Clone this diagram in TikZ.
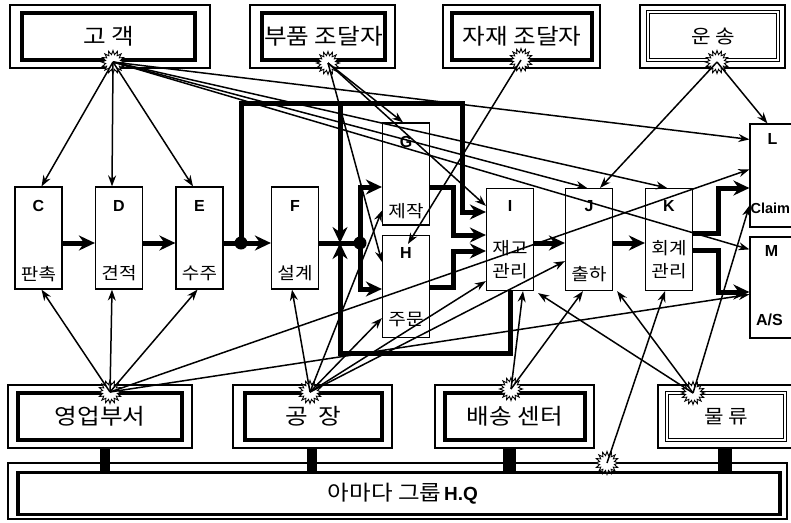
\documentclass[tikz,border=0pt]{standalone}
\usepackage{fontspec}
\setmainfont{Liberation Sans}
\newfontfamily\kr{Noto Sans CJK KR}[FakeStretch=1.12]
\usetikzlibrary{arrows.meta,calc,shapes.symbols}
\begin{document}
\begin{tikzpicture}[x=1pt,y=-1pt,
  outerbox/.style={draw, line width=1.2pt, inner sep=0pt, fill=white},
  innerbox/.style={draw, line width=4pt, inner sep=0pt, fill=white, font=\kr\fontsize{22}{26}\selectfont},
  dblbox/.style={draw, double, double distance=1.6pt, line width=1.1pt, inner sep=0pt, fill=white, font=\kr\fontsize{19}{22}\selectfont},
  pbox/.style={draw, line width=1.2pt, fill=white, inner sep=0pt, minimum width=47pt, minimum height=102pt},
  ltr/.style={font=\bfseries\fontsize{16}{16}\selectfont, inner sep=0pt},
  kor/.style={font=\kr\fontsize{17}{23}\selectfont, inner sep=0pt, align=center},
  burst/.style={starburst, starburst points=16, starburst point height=4pt, minimum size=23pt, inner sep=0pt, draw, fill=white, line width=0.9pt, random starburst=0},
  conn/.style={line width=1.5pt, -{Stealth[length=11pt,width=8pt]}},
  thk/.style={line width=5pt, line join=miter, -{Stealth[length=16pt,width=15pt]}},
  thkl/.style={line width=5pt, line join=miter},
  bar/.style={fill=black}
]
\useasboundingbox (0,0) rectangle (791,522);
\clip (0,0) rectangle (791,522);
\fill[white] (0,0) rectangle (791,522);

% ---------- top boxes ----------
\node[outerbox, minimum width=200pt, minimum height=63pt] (custO) at (110,36.5) {};
\node[innerbox, minimum width=173pt, minimum height=47pt] (cust) at (108.5,36.5) {고 객};
\node[outerbox, minimum width=145pt, minimum height=63pt] (partsO) at (322.5,36.5) {};
\node[innerbox, minimum width=123pt, minimum height=47pt] (parts) at (323.5,36.5) {부품 조달자};
\node[outerbox, minimum width=157pt, minimum height=63pt] (matO) at (521.5,36.5) {};
\node[innerbox, minimum width=140pt, minimum height=47pt] (mat) at (522,36.5) {자재 조달자};
\node[outerbox, minimum width=145pt, minimum height=63pt] (transO) at (712.5,36.5) {};
\node[dblbox, minimum width=130pt, minimum height=48pt] (trans) at (713,36) {운 송};

% ---------- bottom boxes ----------
\node[outerbox, minimum width=779pt, minimum height=56pt] (hqO) at (397.5,491) {};
\node[draw, line width=3.5pt, inner sep=0pt, fill=white, minimum width=762pt, minimum height=42pt] (hq) at (399,493.5) {};
\node[inner sep=0pt] at (403,494) {{\kr\fontsize{21}{24}\selectfont 아마다 그룹} {\bfseries\fontsize{19}{20}\selectfont H.Q}};
\fill[bar] (100,440) rectangle (110,472);
\fill[bar] (307,440) rectangle (317,472);
\fill[bar] (503,440) rectangle (516,472);
\fill[bar] (718,440) rectangle (732,472);
\node[outerbox, minimum width=184pt, minimum height=63pt] (salesO) at (100,416.5) {};
\node[innerbox, minimum width=164pt, minimum height=47pt] (sales) at (100,416.5) {영업부서};
\node[outerbox, minimum width=159pt, minimum height=63pt] (facO) at (312.5,416.5) {};
\node[innerbox, minimum width=137pt, minimum height=47pt] (fac) at (313.5,416.5) {공\hspace{0.5em}장};
\node[outerbox, minimum width=159pt, minimum height=63pt] (delO) at (514.5,416.5) {};
\node[innerbox, minimum width=140pt, minimum height=47pt] (del) at (515,416.5) {배송 센터};
\node[outerbox, minimum width=142pt, minimum height=63pt] (logO) at (729,416.5) {};
\node[dblbox, minimum width=118pt, minimum height=47pt] (log) at (726,416.5) {물 류};
\fill[bar] (100,448) rectangle (110,464);
\fill[bar] (307,448) rectangle (317,464);
\fill[bar] (503,448) rectangle (516,464);
\fill[bar] (718,448) rectangle (732,464);

% ---------- process boxes ----------
\node[pbox] (C) at (38.5,238) {};
\node[pbox] (D) at (119,238) {};
\node[pbox] (E) at (199.5,238) {};
\node[pbox] (F) at (295,238) {};
\node[pbox] (G) at (406,174) {};
\node[pbox] (H) at (406,286.5) {};
\node[pbox] (I) at (510,239.5) {};
\node[pbox] (J) at (589,239.5) {};
\node[pbox] (K) at (669,239.5) {};
\node[pbox, minimum width=50pt, minimum height=103pt] (L) at (775,175.5) {};
\node[pbox, minimum width=50pt, minimum height=101pt] (M) at (775,287.5) {};

\node[ltr] at ($(C.north)+(0,20)$) {C};
\node[kor] at ($(C.south)+(0,-16)$) {판촉};
\node[ltr] at ($(D.north)+(0,20)$) {D};
\node[kor] at ($(D.south)+(0,-16)$) {견적};
\node[ltr] at ($(E.north)+(0,20)$) {E};
\node[kor] at ($(E.south)+(0,-16)$) {수주};
\node[ltr] at ($(F.north)+(0,20)$) {F};
\node[kor] at ($(F.south)+(0,-16)$) {설계};
\node[ltr] at ($(G.north)+(0,20)$) {G};
\node[kor] at ($(G.south)+(0,-14)$) {제작};
\node[ltr] at ($(H.north)+(0,18)$) {H};
\node[kor] at ($(H.south)+(0,-19)$) {주문};
\node[ltr] at ($(I.north)+(0,18)$) {I};
\node[kor] at ($(I.north)+(0,72)$) {재고\\관리};
\node[ltr] at ($(J.north)+(0,18)$) {J};
\node[kor] at ($(J.south)+(0,-17)$) {출하};
\node[ltr] at ($(K.north)+(0,18)$) {K};
\node[kor] at ($(K.north)+(0,72)$) {회계\\관리};
\node[ltr] at ($(L.north west)+(23,16)$) {L};
\node[ltr, anchor=west, font=\bfseries\fontsize{14.5}{15}\selectfont] at ($(L.north west)+(1,85)$) {Claim};
\node[ltr] at ($(M.north west)+(22,15)$) {M};
\node[ltr] at ($(M.north west)+(20,83)$) {A/S};

% ---------- thick process flow ----------
\coordinate (j1) at (241,243);
\coordinate (j2) at (360,243);
\coordinate (tl) at (241,103);
\coordinate (tr) at (462,103);
\coordinate (tm) at (340,103);
\coordinate (mm) at (340,243);
\coordinate (bl) at (340,353);
\coordinate (br) at (510,353);
\coordinate (g1) at (453,187);
\coordinate (g2) at (453,235);
\coordinate (h1) at (453,287);
\coordinate (h2) at (453,251);
\coordinate (k1) at (718,233);
\coordinate (k2) at (718,188);
\coordinate (k3) at (718,250);
\coordinate (k4) at (718,292);
\coordinate (t1) at (462,212);

\draw[thk] ($(C.east)+(0,5)$) -- ($(D.west)+(0,5)$);
\draw[thk] ($(D.east)+(0,5)$) -- ($(E.west)+(0,5)$);
\draw[thk] ($(E.east)+(0,5)$) -- ($(F.west)+(0,5)$);
\draw[thk] (j1) -- (tl) -- (tr) -- (t1) -- (t1 -| I.west);
\draw[thk] (tm) -- (mm);
\draw[thkl] ($(F.east)+(0,5)$) -- (j2);
\draw[thk] (j2) |- ($(G.west)+(0,13)$);
\draw[thk] (j2) |- ($(H.west)+(0,2.5)$);
\draw[thk] ($(G.east)+(0,13)$) -- (g1) -- (g2) -- (g2 -| I.west);
\draw[thk] ($(H.east)+(0,0.5)$) -- (h1) -- (h2) -- (h2 -| I.west);
\draw[thk] (I.south -| br) -- (br) -- (bl) -- (mm);
\draw[thk] ($(I.east)+(0,3.5)$) -- ($(J.west)+(0,3.5)$);
\draw[thk] ($(J.east)+(0,3.5)$) -- ($(K.west)+(0,3.5)$);
\draw[thk] (K.east |- k1) -- (k1) -- (k2) -- (k2 -| L.west);
\draw[thk] (K.east |- k3) -- (k3) -- (k4) -- (k4 -| M.west);
\fill (j1) circle[radius=6.5pt];
\fill (j2) circle[radius=6.5pt];

% ---------- starbursts ----------
\node[burst] (sCu) at (113,62) {};
\node[burst] (sPa) at (328,63) {};
\node[burst] (sMa) at (521,60) {};
\node[burst] (sTr) at (717,62) {};
\node[burst] (sSa) at (110,392) {};
\node[burst] (sFa) at (310,392) {};
\node[burst] (sDe) at (511,389) {};
\node[burst] (sLo) at (693,393) {};
\node[burst] (sHQ) at (607,463) {};

% ---------- thin connectors ----------
% customer
\draw[conn] (sCu.center) -- ($(C.north)+(3,0)$);
\draw[conn] (sCu.center) -- ($(D.north)+(-7,0)$);
\draw[conn] (sCu.center) -- ($(E.north)+(-6.5,0)$);
\draw[conn] (sCu.center) -- ($(L.north west)+(0,16)$);
\draw[conn] (sCu.center) -- ($(K.north)+(-2,0)$);
\draw[conn] (sCu.center) -- ($(J.north)+(-2,0)$);
\draw[conn] (sCu.center) -- ($(M.north west)+(0,13)$);
% parts supplier
\draw[conn] (sPa.center) -- ($(G.north)+(-3,0)$);
\draw[conn] (sPa.center) -- ($(I.north west)+(0,18)$);
\draw[conn] (sPa.center) -- ($(H.north west)+(0,27)$);
% material supplier
\draw[conn] (sMa.center) -- ($(H.north)+(2,9)$);
% transport
\draw[conn] (sTr.center) -- ($(J.north)+(11,0)$);
\draw[conn] (sTr.center) -- ($(L.north west)+(18,0)$);
% sales
\draw[conn] (sSa.center) -- ($(C.south)+(3,0)$);
\draw[conn] (sSa.center) -- ($(D.south)+(-7,0)$);
\draw[conn] (sSa.center) -- ($(E.south)+(-2,0)$);
\draw[conn] (sSa.center) -- ($(L.north west)+(0,46)$);
\draw[conn] (sSa.center) -- ($(M.north west)+(0,58)$);
% factory
\draw[conn] (sFa.center) -- ($(F.south)+(-3,0)$);
\draw[conn] (sFa.center) -- ($(G.south west)+(0,-15)$);
\draw[conn] (sFa.center) -- ($(H.south west)+(0,-20)$);
\draw[conn] (sFa.center) -- ($(I.south west)+(0,-10)$);
\draw[conn] (sFa.center) -- ($(J.south west)+(0,-30)$);
% delivery center
\draw[conn] (sDe.center) -- ($(I.south)+(13,0)$);
\draw[conn] (sDe.center) -- ($(J.south)+(-6,0)$);
% logistics
\draw[conn] (sLo.center) -- ($(I.south east)+(4,2)$);
\draw[conn] (sLo.center) -- ($(J.south east)+(4,0)$);
\draw[conn] (sLo.center) -- ($(L.south west)+(0,-22)$);
% HQ
\draw[conn] (sHQ.center) -- ($(K.south)+(-4,0)$);
\end{tikzpicture}
\end{document}
